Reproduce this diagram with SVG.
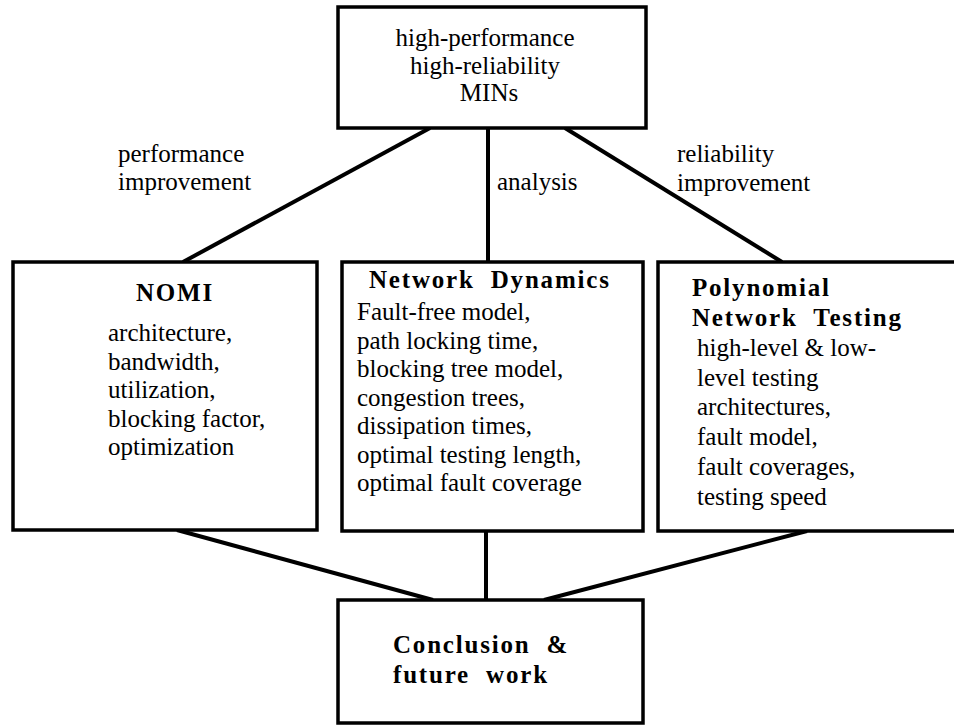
<svg xmlns="http://www.w3.org/2000/svg" width="954" height="725" viewBox="0 0 954 725">
  <style>
    .box { fill: #fff; stroke: #000; stroke-width: 3.5; }
    .edge { stroke: #000; stroke-width: 4; fill: none; stroke-linecap: butt; }
    .t { font-family: "Liberation Serif", "Times New Roman", serif; font-size: 25px; fill: #000; }
    .h { font-family: "Liberation Serif", "Times New Roman", serif; font-size: 25px; font-weight: bold; letter-spacing: 1.8px; fill: #000; }
    .mid { text-anchor: middle; }
  </style>
  <rect width="954" height="725" fill="#fff"/>

  <!-- connectors -->
  <g id="connectors">
    <line class="edge" x1="430" y1="128" x2="183" y2="262"/>
    <line class="edge" x1="488" y1="128" x2="488" y2="262"/>
    <line class="edge" x1="565" y1="128" x2="782" y2="262"/>
    <line class="edge" x1="177" y1="530" x2="433" y2="600"/>
    <line class="edge" x1="486" y1="531" x2="486" y2="600"/>
    <line class="edge" x1="807" y1="531" x2="544" y2="600"/>
  </g>

  <!-- connector labels -->
  <g id="labels">
    <text class="t" x="118" y="162">performance</text>
    <text class="t" x="118" y="190">improvement</text>
    <text class="t" x="497" y="190">analysis</text>
    <text class="t" x="677" y="162">reliability</text>
    <text class="t" x="677" y="191">improvement</text>
  </g>

  <g id="goal">
    <rect class="box" x="338" y="7" width="308" height="121"/>
    <text class="t mid" x="485" y="46">high-performance</text>
    <text class="t mid" x="485" y="74">high-reliability</text>
    <text class="t mid" x="489" y="101">MINs</text>
  </g>

  <g id="nomi">
    <rect class="box" x="13" y="262" width="304" height="268"/>
    <text class="h mid" x="175" y="301">NOMI</text>
    <text class="t" x="108" y="341">architecture,</text>
    <text class="t" x="108" y="369.5">bandwidth,</text>
    <text class="t" x="108" y="398">utilization,</text>
    <text class="t" x="108" y="426.5">blocking factor,</text>
    <text class="t" x="108" y="455">optimization</text>
  </g>

  <g id="dynamics">
    <rect class="box" x="342" y="262" width="301" height="269"/>
    <text class="h" x="369" y="288" xml:space="preserve">Network  Dynamics</text>
    <text class="t" x="357" y="320">Fault-free model,</text>
    <text class="t" x="357" y="348.5">path locking time,</text>
    <text class="t" x="357" y="377">blocking tree model,</text>
    <text class="t" x="357" y="405.5">congestion trees,</text>
    <text class="t" x="357" y="434">dissipation times,</text>
    <text class="t" x="357" y="462.5">optimal testing length,</text>
    <text class="t" x="357" y="491">optimal fault coverage</text>
  </g>

  <g id="testing">
    <rect class="box" x="658" y="262" width="310" height="269"/>
    <text class="h" x="692" y="296">Polynomial</text>
    <text class="h" x="692" y="326" xml:space="preserve">Network  Testing</text>
    <text class="t" x="697" y="356">high-level &amp; low-</text>
    <text class="t" x="697" y="385.5">level testing</text>
    <text class="t" x="697" y="415">architectures,</text>
    <text class="t" x="697" y="445">fault model,</text>
    <text class="t" x="697" y="475">fault coverages,</text>
    <text class="t" x="697" y="505">testing speed</text>
  </g>

  <g id="conclusion">
    <rect class="box" x="338" y="600" width="305" height="123"/>
    <text class="h" x="393" y="653" xml:space="preserve">Conclusion  &amp;</text>
    <text class="h" x="393" y="683" xml:space="preserve">future  work</text>
  </g>
</svg>
